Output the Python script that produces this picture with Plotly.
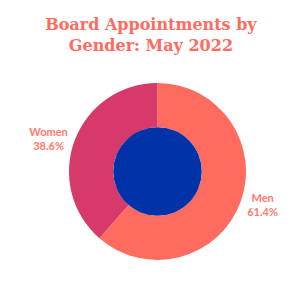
import plotly.graph_objects as go

labels = ["Men", "Women"]
values = [61.4, 38.6]
colors = ["#FF6B5E", "#D6396A"]
hole_color = "#0033A8"
title_text = "Board Appointments by<br>Gender: May 2022"

fig = go.Figure()
fig.add_trace(go.Pie(
    labels=labels, values=values, hole=0.5, sort=False, direction="clockwise",
    rotation=0, marker=dict(colors=colors, line=dict(width=0)),
    textposition="outside", texttemplate="%{label}<br>%{percent:.1%}",
    textfont=dict(family="Lato", size=11, color="#FF7A6C", weight="bold"),
    showlegend=False, hoverinfo="skip",
))
fig.add_trace(go.Pie(
    labels=["center"], values=[1], marker=dict(colors=[hole_color], line=dict(width=0)),
    textinfo="none", showlegend=False, hoverinfo="skip",
    domain=dict(x=[0.25, 0.75], y=[0.25, 0.75]),
))
fig.update_layout(
    width=300, height=300,
    margin=dict(l=69, r=54, t=83, b=40),
    paper_bgcolor="white", plot_bgcolor="white",
    title=dict(text=title_text, x=0.503, xref="container", y=0.90, yref="container",
               yanchor="top", xanchor="center",
               font=dict(family="DejaVu Serif", size=16, color="#FF6B5E", weight="bold")),
)
fig.write_html("out.html")
